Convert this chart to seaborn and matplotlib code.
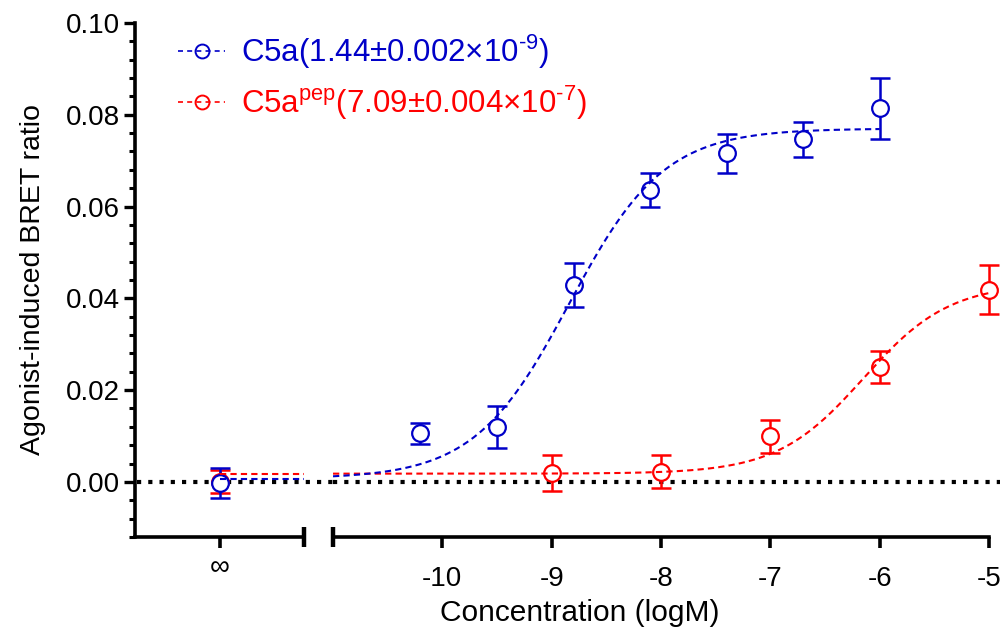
import numpy as np
import pandas as pd
import matplotlib
matplotlib.use("Agg")
import matplotlib.pyplot as plt
from matplotlib.lines import Line2D
from matplotlib.ticker import FixedLocator, MultipleLocator, FormatStrFormatter
import seaborn as sns

# --- data ---
blue_x = [-10.2, -9.5, -8.8, -8.1, -7.4, -6.7, -6.0]
blue_y = [0.0106, 0.0120, 0.0430, 0.0636, 0.0716, 0.0747, 0.0814]
blue_err = [0.0023, 0.0045, 0.0048, 0.0037, 0.0042, 0.0038, 0.0066]
blue_inf_y, blue_inf_err = -0.0002, 0.0033

red_x = [-9.0, -8.0, -7.0, -6.0, -5.0]
red_y = [0.0020, 0.0022, 0.0100, 0.0251, 0.0419]
red_err = [0.0039, 0.0036, 0.0036, 0.0035, 0.0053]
red_inf_y, red_inf_err = 0.0000, 0.0025

# fitted 4PL parameters (bottom, top, logEC50, hill)
blue_fit = (0.0007, 0.0770, -8.84, 1.0)
red_fit = (0.0018, 0.0433, -6.15, 1.1)
blue_fit_range = (-11.0, -6.0)
red_fit_range = (-11.0, -5.0)

x_ticks = [-10, -9, -8, -7, -6, -5]
x_ticklabels = ["-10", "-9", "-8", "-7", "-6", "-5"]
y_ticks = [0.00, 0.02, 0.04, 0.06, 0.08, 0.10]

BLUE = "#0000C8"
RED = "#FF0000"

sns.set_theme(style="ticks")
plt.rcParams["font.family"] = ["Liberation Sans", "DejaVu Sans"]
plt.rcParams["mathtext.fontset"] = "custom"
plt.rcParams["mathtext.rm"] = "Liberation Sans"
plt.rcParams["mathtext.it"] = "Liberation Sans"
plt.rcParams["axes.unicode_minus"] = False
for key in ("text.color", "axes.labelcolor", "axes.edgecolor", "xtick.color", "ytick.color"):
    plt.rcParams[key] = "black"


def four_pl(x, fit):
    bottom, top, logec, hill = fit
    return bottom + (top - bottom) / (1 + 10 ** (hill * (logec - x)))


def curve_frame(fit, lo, hi):
    xs = np.linspace(lo, hi, 300)
    return pd.DataFrame({"x": xs, "y": four_pl(xs, fit)})


fig = plt.figure(figsize=(10.04, 6.37), dpi=100)
ax_l = fig.add_axes([0.1345, 0.1570, 0.1683, 0.8069])
ax_r = fig.add_axes([0.3317, 0.1570, 0.6534, 0.8069], sharey=ax_l)

ylim = (-0.012, 0.10)
ax_l.set_xlim(-1, 1)
ax_r.set_xlim(-11, -5)
ax_l.set_ylim(*ylim)

marker_kw = dict(marker="o", markersize=12, markeredgewidth=1.6,
                 markerfacecolor="white", linestyle="none", zorder=3, clip_on=False)
err_kw = dict(fmt="none", elinewidth=1.8, capsize=7, capthick=1.8, zorder=2, clip_on=False)

for color, xs, ys, es, inf_y, inf_e, fit, rng in [
    (RED, red_x, red_y, red_err, red_inf_y, red_inf_err, red_fit, red_fit_range),
    (BLUE, blue_x, blue_y, blue_err, blue_inf_y, blue_inf_err, blue_fit, blue_fit_range),
]:
    # right (log concentration) panel
    ax_r.errorbar(xs, ys, yerr=es, ecolor=color, **err_kw)
    ax_r.plot(xs, ys, markeredgecolor=color, **marker_kw)
    cf = curve_frame(fit, *rng)
    sns.lineplot(data=cf, x="x", y="y", ax=ax_r, color=color, linewidth=1.5,
                 dashes=False, zorder=4)
    ax_r.lines[-1].set_dashes((3, 2))
    # left (zero concentration) panel
    ax_l.errorbar([0], [inf_y], yerr=[inf_e], ecolor=color, **err_kw)
    ax_l.plot([0], [inf_y], markeredgecolor=color, **marker_kw)
    ax_l.plot([0, 1], [fit[0], fit[0]], color=color, linewidth=1.5,
              dashes=(3, 2), zorder=4)

# zero reference line
for ax, xs in [(ax_l, [-0.98, 1.35]), (ax_r, [-11.0, -4.9])]:
    ax.plot(xs, [0, 0], color="black", linewidth=3, dashes=(1, 1.7),
            dash_capstyle="butt", zorder=1, clip_on=False)

# spines
for ax in (ax_l, ax_r):
    for s in ("top", "right"):
        ax.spines[s].set_visible(False)
    ax.spines["bottom"].set_linewidth(2.6)
    ax.set_xlabel("")
    ax.set_ylabel("")
ax_r.spines["left"].set_visible(False)
ax_l.spines["left"].set_linewidth(2.6)

# y axis
ax_l.yaxis.set_major_locator(FixedLocator(y_ticks))
ax_l.yaxis.set_minor_locator(MultipleLocator(0.004))
ax_l.yaxis.set_major_formatter(FormatStrFormatter("%.2f"))
ax_l.tick_params(axis="y", which="major", direction="out", length=8, width=2.4,
                 labelsize=20, pad=3, colors="black")
ax_l.tick_params(axis="y", which="minor", direction="out", length=4.5, width=2.2)
ax_r.tick_params(axis="y", which="both", left=False, labelleft=False)
ax_l.set_ylabel("Agonist-induced BRET ratio", fontsize=20.5, labelpad=14)

# x axes
ax_l.xaxis.set_major_locator(FixedLocator([0]))
ax_l.set_xticklabels(["\u221e"])
ax_l.xaxis.set_minor_locator(FixedLocator([1]))
ax_r.xaxis.set_major_locator(FixedLocator(x_ticks))
ax_r.set_xticklabels(x_ticklabels)
ax_r.xaxis.set_minor_locator(FixedLocator([-11]))
for ax in (ax_l, ax_r):
    ax.tick_params(axis="x", which="major", direction="out", length=8, width=2.6,
                   labelsize=20, pad=13, colors="black")
    ax.tick_params(axis="x", which="minor", direction="inout", length=14, width=3.2)
ax_l.tick_params(axis="x", which="major", pad=5)

fig.text(580 / 1004, 1 - 613 / 637, "Concentration (logM)", fontsize=21.5,
         ha="center", va="center")

handles = [
    Line2D([], [], color=BLUE, linewidth=1.2, dashes=(3, 2.5), marker="o",
           markersize=10, markerfacecolor="none", markeredgewidth=1.4),
    Line2D([], [], color=RED, linewidth=1.2, dashes=(3, 2.5), marker="o",
           markersize=10, markerfacecolor="none", markeredgewidth=1.4),
]
labels = [
    "C5a(1.44±0.002×10$^{\u2010\\mathregular{9}}$)",
    "C5a$^{\\mathregular{pep}}$(7.09±0.004×10$^{\u2010\\mathregular{7}}$)",
]
fig.legend(handles, labels, loc="upper left", bbox_to_anchor=(166 / 1004, 1 - 20 / 637),
           frameon=False, fontsize=22.5, handlelength=1.5, handletextpad=0.5,
           labelspacing=0.4, labelcolor="linecolor", borderaxespad=0)

fig.savefig("out.png", dpi=100)
